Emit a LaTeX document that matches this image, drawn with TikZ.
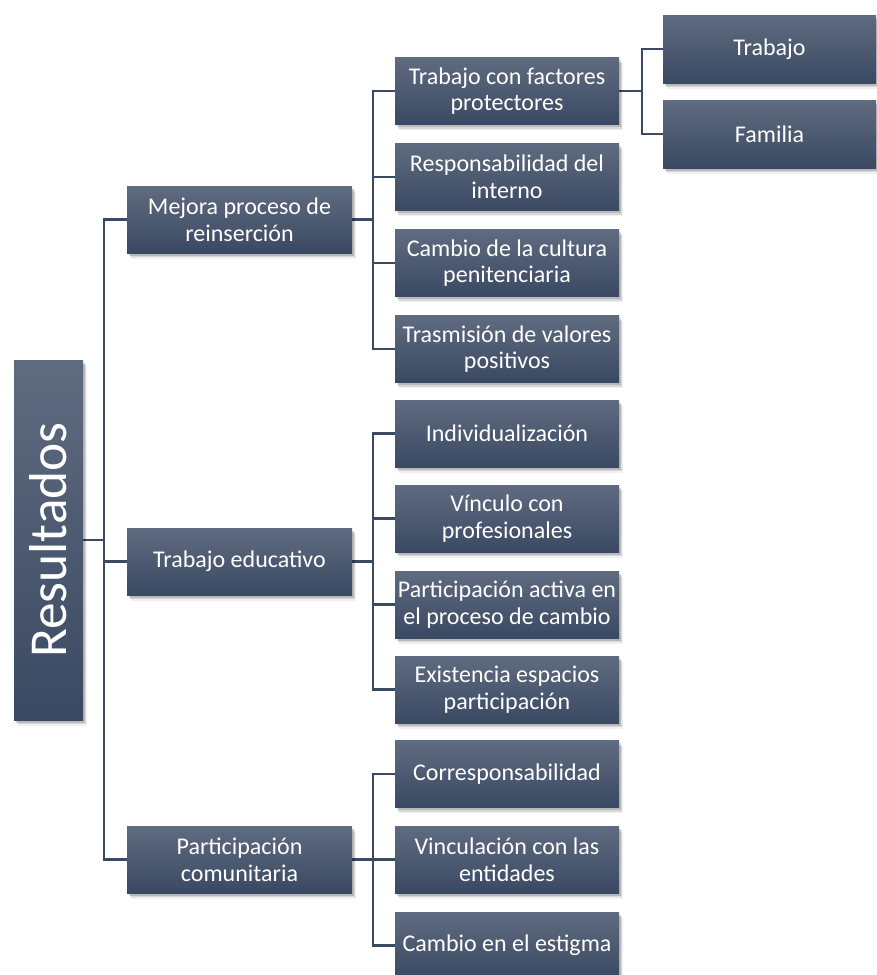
\documentclass[tikz,border=0pt]{standalone}
\usepackage{fontspec}
\setmainfont{Carlito}
\usetikzlibrary{shadows,backgrounds}

\definecolor{boxtop}{RGB}{95,107,127}
\definecolor{boxbot}{RGB}{58,73,99}
\definecolor{linkcol}{RGB}{59,74,99}

\tikzset{
  softshadow/.style={
    drop shadow={shadow xshift=1.5pt,shadow yshift=-2pt,opacity=.14,fill=black},
    drop shadow={shadow xshift=2.2pt,shadow yshift=-3.2pt,opacity=.10,fill=black},
    drop shadow={shadow xshift=2.8pt,shadow yshift=-4.2pt,opacity=.06,fill=black}},
  card/.style={rectangle, softshadow, top color=boxtop, bottom color=boxbot,
    draw=none, text=white, align=center, inner sep=2pt,
    font=\fontsize{18}{20}\selectfont},
  lvlone/.style={card, minimum width={225*0.75pt}, minimum height={67*0.75pt}},
  lvltwo/.style={card, minimum width={224*0.75pt}, minimum height={67*0.75pt}},
  lvlthree/.style={card, minimum width={213*0.75pt}, minimum height={68*0.75pt}},
  rootbox/.style={card, minimum width={69*0.75pt}, minimum height={360*0.75pt},
    font=\fontsize{40}{44}\selectfont},
  link/.style={draw=linkcol, line width=1.6pt}
}

\begin{document}
\begin{tikzpicture}[x=0.75pt, y=-0.75pt]
\useasboundingbox (0,0) rectangle (877,975);

% root
\node[rootbox] (root) at (48.5,540) {};
\node[rotate=90, text=white, font=\fontsize{40}{44}\selectfont] (roottxt) at (root.center) {Resultados};

% first level
\node[lvlone] (m1) at (239.5,219.5) {Mejora proceso de\\reinserción};
\node[lvlone] (m2) at (239.5,561.5) {Trabajo educativo};
\node[lvlone] (m3) at (239.5,859.5) {Participación\\comunitaria};

% second level
\node[lvltwo] (a1) at (507,91)  {Trabajo con factores\\protectores};
\node[lvltwo] (a2) at (507,177) {Responsabilidad del\\interno};
\node[lvltwo] (a3) at (507,263) {Cambio de la cultura\\penitenciaria};
\node[lvltwo] (a4) at (507,349) {Trasmisión de valores\\positivos};

\node[lvltwo] (b1) at (507,433.5) {Individualización};
\node[lvltwo] (b2) at (507,518.5) {Vínculo con\\profesionales};
\node[lvltwo] (b3) at (507,604.5) {Participación activa en\\el proceso de cambio};
\node[lvltwo] (b4) at (507,689.5) {Existencia espacios\\participación};

\node[lvltwo] (c1) at (507,774) {Corresponsabilidad};
\node[lvltwo] (c2) at (507,859.5) {Vinculación con las\\entidades};
\node[lvltwo] (c3) at (507,945.5) {Cambio en el estigma};

% third level
\node[lvlthree] (d1) at (769.5,49)  {Trabajo};
\node[lvlthree] (d2) at (769.5,134) {Familia};

% connectors
\coordinate (t0) at (104,540);
\coordinate (t1) at (373,219.5);
\coordinate (t2) at (373,561.5);
\coordinate (t3) at (373,859.5);
\coordinate (t4) at (642,91);

\begin{scope}[on background layer]
  \draw[link] (root.east) -- (t0);
  \draw[link] (m1.west) -- (m1.west -| t0) -- (m3.west -| t0) -- (m3.west);
  \draw[link] (m2.west) -- (m2.west -| t0);

  \draw[link] (m1.east) -- (t1);
  \draw[link] (a1.west) -- (a1.west -| t1) -- (a4.west -| t1) -- (a4.west);
  \draw[link] (a2.west) -- (a2.west -| t1);
  \draw[link] (a3.west) -- (a3.west -| t1);

  \draw[link] (m2.east) -- (t2);
  \draw[link] (b1.west) -- (b1.west -| t2) -- (b4.west -| t2) -- (b4.west);
  \draw[link] (b2.west) -- (b2.west -| t2);
  \draw[link] (b3.west) -- (b3.west -| t2);

  \draw[link] (m3.east) -- (t3);
  \draw[link] (c1.west) -- (c1.west -| t3) -- (c3.west -| t3) -- (c3.west);
  \draw[link] (c2.west) -- (c2.west -| t3);

  \draw[link] (a1.east) -- (t4);
  \draw[link] (d1.west) -- (d1.west -| t4) -- (d2.west -| t4) -- (d2.west);
\end{scope}
\end{tikzpicture}
\end{document}
